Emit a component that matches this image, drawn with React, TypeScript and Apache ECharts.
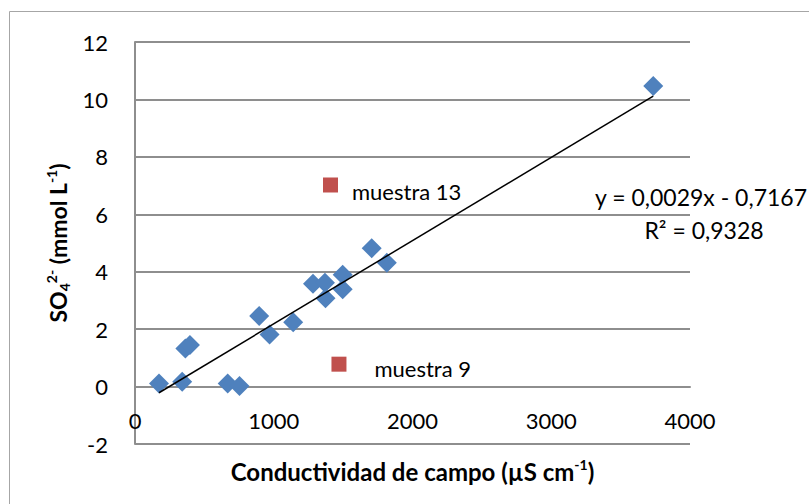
import React, { useEffect, useRef } from "react";
import * as echarts from "echarts";

// Blue diamonds: field conductivity (µS cm-1) vs SO4 2- (mmol L-1)
const conductivity = [173, 340, 363, 396, 668, 753, 895, 970, 1140, 1283, 1369, 1373, 1497, 1497, 1706, 1815, 3735];
const sulfate = [0.11, 0.17, 1.33, 1.45, 0.11, 0.02, 2.46, 1.81, 2.24, 3.58, 3.62, 3.08, 3.89, 3.39, 4.82, 4.31, 10.47];

// Red squares (outliers)
const outlierNames = ["muestra 13", "muestra 9"];
const outlierConductivity = [1409, 1470];
const outlierSulfate = [7.02, 0.78];

// Linear trend line shown on the chart
const trendSlope = 0.0029;
const trendIntercept = -0.7167;
const rSquared = 0.9328;

// Axis ranges
const xMin = 0;
const xMax = 4000;
const xInterval = 1000;
const yMin = -2;
const yMax = 12;
const yInterval = 2;

const FONT = "Lato";
const GRID_GRAY = "#8e8e8e";

const GRID_TOP = 42;
const GRID_BOTTOM = 60;
const CHART_H = 504;

const fmt = (v: number, d: number) => v.toFixed(d).replace(".", ",");

export default function App() {
  const ref = useRef<HTMLDivElement>(null);

  useEffect(() => {
    if (!ref.current) return;
    const chart = echarts.init(ref.current, null, { renderer: "svg" });

    const blueData = conductivity.map((x, i) => [x, sulfate[i]]);
    const labelOffsets: Record<string, { distance: number; offset: number[] }> = {
      "muestra 13": { distance: 14, offset: [0, 7] },
      "muestra 9": { distance: 28, offset: [0, 4] },
    };
    const redData = outlierNames.map((name, i) => ({
      name,
      value: [outlierConductivity[i], outlierSulfate[i]],
      label: {
        show: true,
        position: "right",
        distance: labelOffsets[name].distance,
        offset: labelOffsets[name].offset,
        formatter: name,
      },
    }));
    const tx0 = Math.min(...conductivity);
    const tx1 = Math.max(...conductivity);
    const trendData = [
      [tx0, trendSlope * tx0 + trendIntercept],
      [tx1, trendSlope * tx1 + trendIntercept],
    ];

    // place the horizontal axis where y = 0 (as the original does)
    const gridH = CHART_H - GRID_TOP - GRID_BOTTOM;
    const zeroOffset = ((0 - yMin) / (yMax - yMin)) * gridH;

    const boldX = { fontFamily: FONT, fontWeight: "bold", fontSize: 24, color: "#000", lineHeight: 28 };
    const supX = { fontFamily: FONT, fontWeight: "bold", fontSize: 14, color: "#000", lineHeight: 15, verticalAlign: "top" };
    const boldY = { fontFamily: FONT, fontWeight: "bold", fontSize: 23, color: "#000", lineHeight: 27 };
    const supY = { fontFamily: FONT, fontWeight: "bold", fontSize: 14, color: "#000", lineHeight: 15, verticalAlign: "top" };
    const subY = { fontFamily: FONT, fontWeight: "bold", fontSize: 14, color: "#000", lineHeight: 15, verticalAlign: "bottom" };

    const option: any = {
      animation: false,
      backgroundColor: "#ffffff",
      grid: { left: 135, right: 119, top: GRID_TOP, bottom: GRID_BOTTOM, containLabel: false, outerBoundsMode: "none" },
      xAxis: {
        type: "value",
        min: xMin,
        max: xMax,
        interval: xInterval,
        offset: -zeroOffset,
        splitLine: { show: false },
        axisTick: { show: false },
        axisLine: { show: true, onZero: false, lineStyle: { color: GRID_GRAY, width: 2 } },
        axisLabel: { fontFamily: FONT, fontSize: 22, color: "#000", margin: 23, formatter: (v: number) => String(v) },
        name: "{b|Conductividad de campo (µS cm}{sup|-1}{b|)}",
        nameLocation: "middle",
        nameGap: 71,
        nameTextStyle: { rich: { b: boldX, sup: supX } },
      },
      yAxis: {
        type: "value",
        min: yMin,
        max: yMax,
        interval: yInterval,
        splitLine: { show: true, lineStyle: { color: GRID_GRAY, width: 2 } },
        axisTick: { show: false },
        axisLine: { show: true, onZero: false, lineStyle: { color: GRID_GRAY, width: 2 } },
        axisLabel: { fontFamily: FONT, fontSize: 22, color: "#000", margin: 27, formatter: (v: number) => String(v) },
        name: "{b|SO}{sub|4}{sup|2-}{b| (mmol L}{sup|-1}{b|)}",
        nameLocation: "middle",
        nameGap: 58,
        nameTextStyle: { rich: { b: boldY, sup: supY, sub: subY } },
      },
      series: [
        {
          type: "scatter",
          data: blueData,
          symbol: "diamond",
          symbolSize: 20,
          itemStyle: { color: "#4F81BD", opacity: 1 },
          z: 2,
        },
        {
          type: "scatter",
          data: redData,
          symbol: "rect",
          symbolSize: 15,
          itemStyle: { color: "#C0504D", opacity: 1 },
          label: { fontFamily: FONT, fontSize: 22, color: "#000" },
          z: 2,
        },
        {
          type: "line",
          data: trendData,
          symbol: "none",
          lineStyle: { color: "#000", width: 1.5 },
          z: 3,
        },
      ],
      graphic: [
        {
          type: "rect",
          shape: { x: 9.5, y: 11.5, width: 830, height: 540 },
          style: { fill: "none", stroke: "#a6a6a6", lineWidth: 1 },
          silent: true,
          z: -1,
        },
        {
          type: "text",
          x: 595,
          y: 197,
          style: {
            text: `y = ${fmt(trendSlope, 4)}x - ${fmt(-trendIntercept, 4)}`,
            font: `23px ${FONT}`,
            fill: "#000",
            align: "left",
            verticalAlign: "middle",
          },
        },
        {
          type: "text",
          x: 704,
          y: 230,
          style: {
            text: `R² = ${fmt(rSquared, 4)}`,
            font: `23px ${FONT}`,
            fill: "#000",
            align: "center",
            verticalAlign: "middle",
          },
        },
      ],
    };

    chart.setOption(option);
    return () => chart.dispose();
  }, []);

  return (
    <div
      ref={ref}
      style={{ position: "absolute", left: 0, top: 0, width: 809, height: 504, background: "#fff" }}
    />
  );
}
